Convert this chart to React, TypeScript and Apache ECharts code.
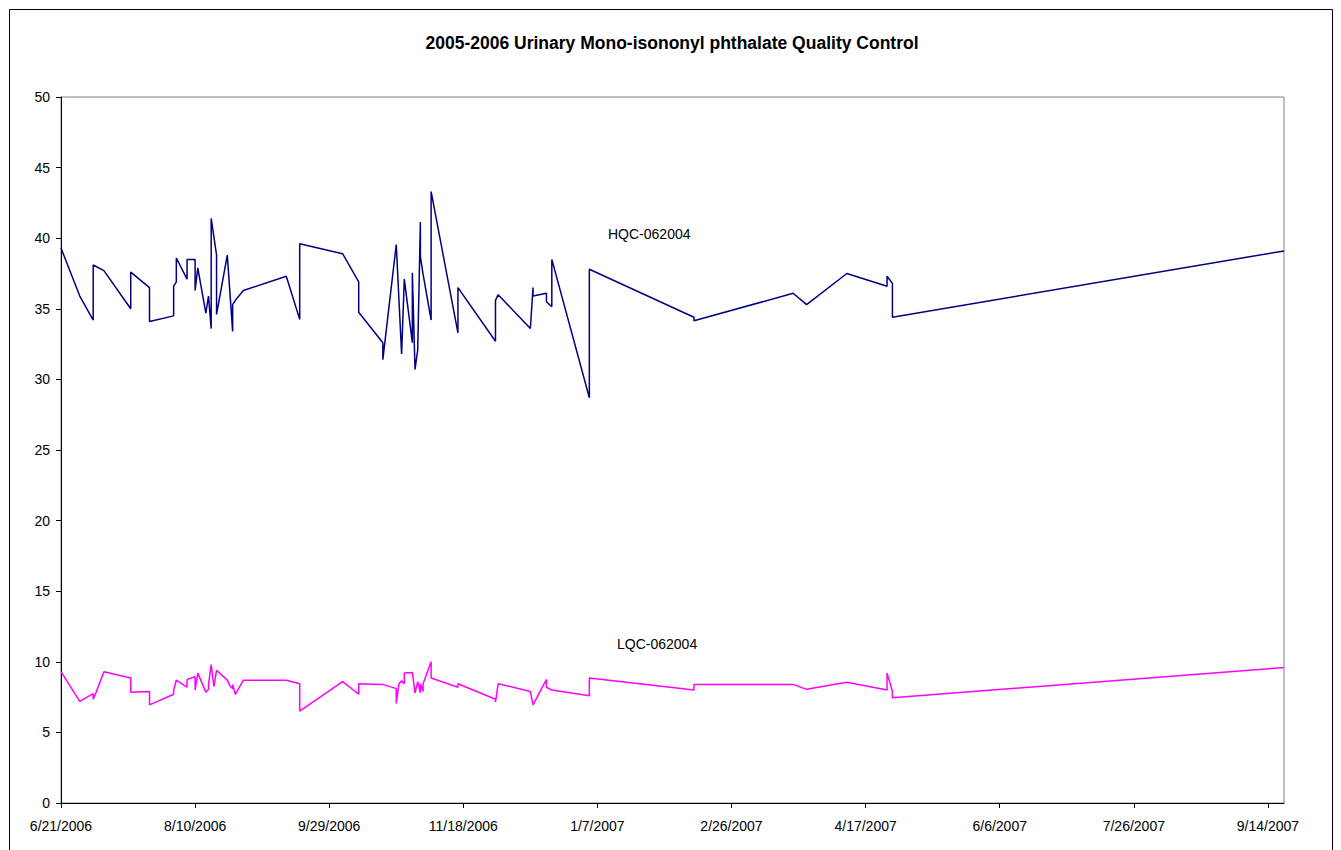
import React, { useEffect, useRef } from 'react';
import * as echarts from 'echarts';

const chartTitle = '2005-2006 Urinary Mono-isononyl phthalate Quality Control';
const hqcName = 'HQC-062004';
const lqcName = 'LQC-062004';

// x axis: first and last date on the axis, tick step in days
const axisStartDate = '2006-06-21';
const axisEndDate = '2007-09-20';
const xTickStepDays = 50;

// y axis
const yMin = 0;
const yMax = 50;
const yStep = 5;

const hqcDates = [
  '2006-06-21', '2006-06-28', '2006-07-03', '2006-07-03', '2006-07-07', '2006-07-17', '2006-07-17',
  '2006-07-24', '2006-07-24', '2006-08-02', '2006-08-02', '2006-08-03', '2006-08-03', '2006-08-07',
  '2006-08-07', '2006-08-10', '2006-08-10', '2006-08-11', '2006-08-14', '2006-08-15', '2006-08-16',
  '2006-08-16', '2006-08-18', '2006-08-18', '2006-08-22', '2006-08-24', '2006-08-24', '2006-08-25',
  '2006-08-28', '2006-09-13', '2006-09-18', '2006-09-18', '2006-10-04', '2006-10-10', '2006-10-10',
  '2006-10-19', '2006-10-19', '2006-10-24', '2006-10-26', '2006-10-27', '2006-10-30', '2006-10-30',
  '2006-10-31', '2006-11-01', '2006-11-02', '2006-11-02', '2006-11-03', '2006-11-06', '2006-11-06',
  '2006-11-16', '2006-11-16', '2006-11-30', '2006-11-30', '2006-12-01', '2006-12-13', '2006-12-14',
  '2006-12-14', '2006-12-19', '2006-12-19', '2006-12-21', '2006-12-21', '2007-01-04', '2007-01-04',
  '2007-02-12', '2007-02-12', '2007-03-21', '2007-03-26', '2007-04-10', '2007-04-25', '2007-04-25',
  '2007-04-27', '2007-04-27', '2007-09-20',
];
const hqcValues = [
  39.3, 35.9, 34.2, 38.1, 37.7, 35.0, 37.6,
  36.5, 34.1, 34.5, 36.6, 36.9, 38.6, 37.1,
  38.5, 38.5, 36.3, 37.9, 34.7, 35.9, 33.6,
  41.4, 38.8, 34.6, 38.8, 33.4, 35.3, 35.6,
  36.3, 37.3, 34.25, 39.6, 38.9, 36.9, 34.75,
  32.6, 31.4, 39.55, 31.8, 37.1, 32.6, 37.55,
  30.7, 32.1, 41.15, 38.7, 37.45, 34.2, 43.3,
  33.3, 36.5, 32.7, 35.6, 36.0, 33.6, 36.5,
  35.9, 36.1, 35.5, 35.15, 38.5, 28.7, 37.8,
  34.4, 34.15, 36.1, 35.3, 37.5, 36.6, 37.3,
  36.8, 34.4, 39.1,
];

const lqcDates = [
  '2006-06-21', '2006-06-28', '2006-07-03', '2006-07-03', '2006-07-04', '2006-07-07', '2006-07-17',
  '2006-07-17', '2006-07-24', '2006-07-24', '2006-08-02', '2006-08-02', '2006-08-03', '2006-08-07',
  '2006-08-07', '2006-08-10', '2006-08-10', '2006-08-11', '2006-08-14', '2006-08-15', '2006-08-15',
  '2006-08-16', '2006-08-17', '2006-08-18', '2006-08-22', '2006-08-23', '2006-08-24', '2006-08-24',
  '2006-08-25', '2006-08-28', '2006-09-13', '2006-09-18', '2006-09-18', '2006-10-04', '2006-10-10',
  '2006-10-10', '2006-10-19', '2006-10-24', '2006-10-24', '2006-10-25', '2006-10-26', '2006-10-27',
  '2006-10-27', '2006-10-30', '2006-10-31', '2006-11-01', '2006-11-02', '2006-11-02', '2006-11-03',
  '2006-11-03', '2006-11-06', '2006-11-06', '2006-11-16', '2006-11-16', '2006-11-30', '2006-11-30',
  '2006-12-01', '2006-12-13', '2006-12-14', '2006-12-19', '2006-12-19', '2006-12-21', '2007-01-04',
  '2007-01-04', '2007-02-12', '2007-02-12', '2007-03-21', '2007-03-26', '2007-04-10', '2007-04-25',
  '2007-04-25', '2007-04-27', '2007-04-27', '2007-09-20',
];
const lqcValues = [
  9.3, 7.2, 7.75, 7.35, 7.8, 9.3, 8.85,
  7.85, 7.9, 6.95, 7.7, 8.0, 8.7, 8.2,
  8.75, 8.95, 8.0, 9.2, 7.85, 8.05, 8.4,
  9.8, 8.25, 9.4, 8.7, 8.3, 8.1, 8.4,
  7.7, 8.7, 8.7, 8.45, 6.5, 8.6, 7.7,
  8.45, 8.4, 8.1, 7.05, 8.45, 8.65, 8.45,
  9.2, 9.25, 7.8, 8.6, 7.8, 8.45, 7.9,
  8.45, 10.0, 8.85, 8.2, 8.45, 7.35, 7.15,
  8.45, 7.9, 6.95, 8.75, 8.2, 8.0, 7.6,
  8.85, 8.0, 8.4, 8.4, 8.05, 8.55, 8.0,
  9.2, 7.9, 7.45, 9.6,
];

const DAY = 86400000;
const toUtc = (s: string) => {
  const [y, m, d] = s.split('-').map(Number);
  return Date.UTC(y, m - 1, d);
};
const baseUtc = toUtc(axisStartDate);
const dayOffset = (s: string) => Math.round((toUtc(s) - baseUtc) / DAY);
const formatDay = (v: number) => {
  const dt = new Date(baseUtc + Math.round(v) * DAY);
  return `${dt.getUTCMonth() + 1}/${dt.getUTCDate()}/${dt.getUTCFullYear()}`;
};

const FONT = "'Liberation Sans', Arial, Helvetica, sans-serif";

export default function App() {
  const ref = useRef<HTMLDivElement>(null);

  useEffect(() => {
    if (!ref.current) return;
    const chart = echarts.init(ref.current, undefined, { renderer: 'svg' });
    const hqcData = hqcDates.map((d, i) => [dayOffset(d), hqcValues[i]]);
    const lqcData = lqcDates.map((d, i) => [dayOffset(d), lqcValues[i]]);
    const xMax = dayOffset(axisEndDate);

    chart.setOption({
      animation: false,
      backgroundColor: '#ffffff',
      textStyle: { fontFamily: FONT },
      title: {
        text: chartTitle,
        left: 659,
        top: 21,
        textAlign: 'center',
        textStyle: { fontFamily: FONT, fontSize: 17.5, fontWeight: 'bold', color: '#000' },
      },
      graphic: [
        {
          type: 'rect',
          silent: true,
          shape: { x: 1.5, y: 1.5, width: 1323, height: 900 },
          style: { fill: 'none', stroke: '#000', lineWidth: 1 },
          z: 100,
        },
        {
          type: 'text',
          x: 600,
          y: 226,
          style: { text: hqcName, fontFamily: FONT, fontSize: 14, fill: '#000', verticalAlign: 'middle' },
        },
        {
          type: 'text',
          x: 609,
          y: 636,
          style: { text: lqcName, fontFamily: FONT, fontSize: 14, fill: '#000', verticalAlign: 'middle' },
        },
      ],
      grid: {
        left: 53,
        top: 89,
        width: 1223,
        height: 706,
        show: true,
        borderColor: '#808080',
        borderWidth: 1,
        backgroundColor: '#ffffff',
      },
      xAxis: {
        type: 'value',
        min: 0,
        max: xMax,
        interval: xTickStepDays,
        splitLine: { show: false },
        axisLine: { show: true, lineStyle: { color: '#000', width: 1 } },
        axisTick: { show: true, length: 5, lineStyle: { color: '#000' } },
        axisLabel: {
          margin: 16,
          fontFamily: FONT,
          fontSize: 14,
          color: '#000',
          showMaxLabel: false,
          formatter: (v: number) => (Math.round(v) % xTickStepDays === 0 ? formatDay(v) : ''),
        },
      },
      yAxis: {
        type: 'value',
        min: yMin,
        max: yMax,
        interval: yStep,
        splitLine: { show: false },
        axisLine: { show: true, lineStyle: { color: '#000', width: 1 } },
        axisTick: { show: true, length: 5, lineStyle: { color: '#000' } },
        axisLabel: { margin: 11, fontFamily: FONT, fontSize: 14, color: '#000' },
      },
      series: [
        {
          name: hqcName,
          type: 'line',
          data: hqcData,
          showSymbol: false,
          symbol: 'none',
          lineStyle: { color: '#000080', width: 1.5 },
          itemStyle: { color: '#000080' },
        },
        {
          name: lqcName,
          type: 'line',
          data: lqcData,
          showSymbol: false,
          symbol: 'none',
          lineStyle: { color: '#ff00ff', width: 1.5 },
          itemStyle: { color: '#ff00ff' },
        },
      ],
    });
    return () => chart.dispose();
  }, []);

  return <div ref={ref} style={{ width: 1333, height: 842 }} />;
}
